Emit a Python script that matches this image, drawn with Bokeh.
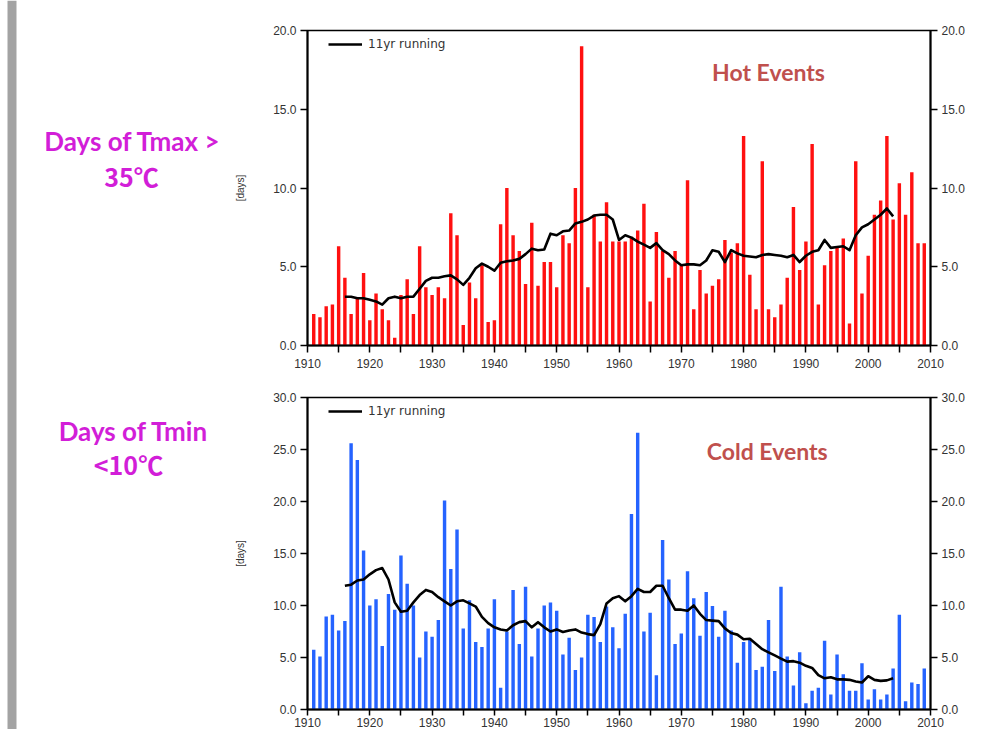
from bokeh.plotting import figure
from bokeh.layouts import row, column
from bokeh.models import (Range1d, LinearAxis, FixedTicker, PrintfTickFormatter,
                          Label, Legend, LegendItem, ColumnDataSource)
from bokeh.embed import file_html
from bokeh.resources import INLINE
from bokeh.core.properties import value

# ---------------- data ----------------
years = list(range(1911, 2010))

hot_days = [2.0, 1.8, 2.5, 2.6, 6.3, 4.3, 2.0, 3.0, 4.6, 1.6,
            3.3, 2.3, 1.6, 0.5, 3.2, 4.2, 2.0, 6.3, 3.7, 3.2,
            3.7, 3.0, 8.4, 7.0, 1.3, 4.0, 3.0, 5.1, 1.5, 1.6,
            7.7, 10.0, 7.0, 6.0, 3.9, 7.8, 3.8, 5.3, 5.3, 3.7,
            7.0, 6.5, 10.0, 19.0, 3.7, 8.3, 6.6, 9.1, 6.6, 6.6,
            6.6, 6.9, 7.3, 9.0, 2.8, 7.2, 6.0, 4.3, 6.0, 5.1,
            10.5, 2.3, 4.8, 3.3, 3.8, 4.2, 6.7, 5.9, 6.5, 13.3,
            4.5, 2.3, 11.7, 2.3, 1.8, 2.6, 4.3, 8.8, 4.8, 6.6,
            12.8, 2.6, 5.1, 6.0, 6.2, 6.8, 1.4, 11.7, 3.3, 5.7,
            8.3, 9.2, 13.3, 8.0, 10.3, 8.3, 11.0, 6.5, 6.5]

cold_days = [5.75, 5.1, 8.95, 9.1, 7.6, 8.5, 25.6, 24.0, 15.3, 10.0,
             10.6, 6.1, 11.1, 9.6, 14.8, 12.1, 10.0, 5.0, 7.5, 7.0,
             8.6, 20.1, 13.5, 17.3, 7.8, 10.5, 6.5, 6.0, 7.8, 10.6,
             2.1, 7.5, 11.5, 6.3, 11.8, 5.1, 7.8, 10.0, 10.3, 9.5,
             5.3, 6.9, 3.8, 5.0, 9.1, 8.9, 6.5, 9.9, 7.9, 5.9,
             9.2, 18.8, 26.6, 7.5, 9.3, 3.3, 16.3, 12.5, 6.3, 7.3,
             13.3, 10.7, 7.1, 11.3, 9.95, 7.0, 9.5, 7.6, 4.5, 6.5,
             6.8, 3.8, 4.1, 8.6, 3.7, 11.8, 5.1, 2.3, 5.5, 0.6,
             1.8, 2.1, 6.6, 1.45, 5.3, 3.4, 1.8, 1.8, 4.45, 0.95,
             1.95, 0.95, 1.45, 3.95, 9.1, 0.8, 2.6, 2.45, 3.95]

run_years = list(range(1916, 2005))

hot_running = [3.1, 3.1, 3.0, 3.0, 2.9, 2.8, 2.6, 3.0, 3.1, 3.0,
               3.1, 3.1, 3.6, 4.1, 4.3, 4.3, 4.4, 4.45, 4.2, 3.85,
               4.3, 4.9, 5.2, 5.0, 4.75, 5.25, 5.35, 5.4, 5.5, 5.8,
               6.15, 6.05, 6.1, 7.1, 7.0, 7.25, 7.3, 7.75, 7.85, 8.0,
               8.25, 8.3, 8.3, 8.0, 6.7, 7.0, 6.85, 6.6, 6.4, 6.2,
               6.5, 6.05, 5.8, 5.4, 5.1, 5.15, 5.15, 5.1, 5.4, 6.05,
               5.95, 5.3, 6.05, 5.85, 5.7, 5.65, 5.6, 5.75, 5.8, 5.75,
               5.7, 5.6, 5.75, 5.3, 5.7, 5.95, 6.05, 6.7, 6.2, 6.25,
               6.3, 6.05, 7.0, 7.5, 7.7, 8.0, 8.3, 8.7, 8.2]

cold_running = [11.9, 12.0, 12.4, 12.5, 13.0, 13.4, 13.6, 12.5, 10.3, 9.4,
                9.5, 10.3, 11.0, 11.5, 11.3, 10.8, 10.4, 10.0, 10.4, 10.5,
                10.2, 9.9, 8.9, 8.3, 7.9, 7.7, 7.6, 8.1, 8.4, 8.5,
                7.9, 8.4, 7.9, 7.5, 7.7, 7.45, 7.6, 7.7, 7.4, 7.25,
                7.15, 8.2, 10.2, 10.7, 10.9, 10.4, 10.9, 11.6, 11.3, 11.3,
                11.9, 11.9, 10.7, 9.6, 9.6, 9.5, 10.0, 9.2, 8.6, 8.55,
                8.5, 7.8, 7.35, 7.2, 6.75, 6.8, 6.3, 5.8, 5.5, 5.2,
                4.9, 4.6, 4.65, 4.5, 4.2, 4.0, 3.3, 3.0, 3.1, 2.9,
                2.9, 2.85, 2.7, 2.6, 3.2, 2.85, 2.75, 2.8, 3.0]

x_ticks = [1910, 1920, 1930, 1940, 1950, 1960, 1970, 1980, 1990, 2000, 2010]
x_minor = [1915, 1925, 1935, 1945, 1955, 1965, 1975, 1985, 1995, 2005]
hot_yticks = [0, 5, 10, 15, 20]
cold_yticks = [0, 5, 10, 15, 20, 25, 30]

legend_text = "11yr running"
hot_title = "Hot Events"
cold_title = "Cold Events"
left_texts = ["Days of Tmax >", "Days of Tmin"]
left_unit_texts = ["35\u2103", "<10\u2103"]

# ---------------- styling helpers ----------------
TICK_FONT = "Liberation Sans"
TITLE_COLOR = "#c0504d"
MAGENTA = "#d21ed8"


def style_axis(ax, is_x=False, tick_out=7, standoff=4):
    ax.axis_line_width = 2
    ax.axis_line_color = "black"
    ax.major_tick_line_width = 1.5
    ax.major_tick_in = 0
    ax.major_tick_out = tick_out
    ax.major_label_text_font = TICK_FONT
    ax.major_label_text_font_size = "12px"
    ax.major_label_text_color = "#333333"
    ax.major_label_standoff = standoff
    if is_x:
        ax.minor_tick_in = 0
        ax.minor_tick_out = tick_out
        ax.minor_tick_line_width = 1.5
        ax.minor_tick_line_color = "black"
    else:
        ax.minor_tick_line_color = None


def make_panel(height, ymax, yticks, vals, run_vals, color, b_left, b_right,
               b_top, b_bottom, title, title_x, title_y, frame_h,
               x_tick_out, x_standoff):
    p = figure(width=741, height=height, x_range=Range1d(1910, 2010),
               y_range=Range1d(0, ymax), output_backend="svg",
               toolbar_location=None, min_border_left=b_left,
               min_border_right=b_right, min_border_top=b_top,
               min_border_bottom=b_bottom, y_axis_label="[days]")
    p.xgrid.visible = False
    p.ygrid.visible = False
    p.outline_line_color = "black"
    p.outline_line_width = 1.5
    p.background_fill_color = "white"
    p.border_fill_color = "white"

    src = ColumnDataSource(dict(year=years, val=vals))
    p.vbar(x="year", top="val", width=0.55, source=src,
           fill_color=color, line_color=None)
    rsrc = ColumnDataSource(dict(year=run_years, val=run_vals))
    ln = p.line(x="year", y="val", source=rsrc, line_color="black",
                line_width=2.6, line_join="round")

    xa = p.xaxis[0]
    xa.ticker = FixedTicker(ticks=x_ticks, minor_ticks=x_minor)
    style_axis(xa, True, x_tick_out, x_standoff)

    ya = p.yaxis[0]
    ya.ticker = FixedTicker(ticks=yticks)
    ya.formatter = PrintfTickFormatter(format="%.1f")
    style_axis(ya)
    ya.axis_label_text_font = TICK_FONT
    ya.axis_label_text_font_size = "10px"
    ya.axis_label_text_font_style = "normal"
    ya.axis_label_text_color = "#333333"
    ya.axis_label_standoff = 24

    ra = LinearAxis(ticker=FixedTicker(ticks=yticks),
                    formatter=PrintfTickFormatter(format="%.1f"))
    style_axis(ra)
    p.add_layout(ra, "right")

    leg = Legend(items=[LegendItem(label=legend_text, renderers=[ln])],
                 location=(21, frame_h - 21))
    leg.background_fill_alpha = 0
    leg.border_line_alpha = 0
    leg.glyph_width = 34
    leg.glyph_height = 14
    leg.label_height = 14
    leg.label_standoff = 6
    leg.padding = 0
    leg.margin = 0
    leg.spacing = 0
    leg.label_text_font = "DejaVu Sans"
    leg.label_text_font_size = "12px"
    leg.label_text_color = "#333333"
    p.add_layout(leg)

    p.add_layout(Label(x=title_x, y=title_y, text=title, text_align="center",
                       text_baseline="middle", text_font="Lato",
                       text_font_size="23px", text_font_style="bold",
                       text_color=TITLE_COLOR))
    return p


top = make_panel(380, 20, hot_yticks, hot_days, hot_running, "#ff1010",
                 79, 39, 30, 35, hot_title, 1984, 17.35, 315, 7, 6)
bottom = make_panel(349, 30, cold_yticks, cold_days, cold_running, "#2563ff",
                    75, 37, 17, 20, cold_title, 1983.8, 24.9, 312, 6, 2)

# left text panel (coordinates in picture pixels)
left = figure(width=228, height=729, x_range=Range1d(0, 228),
              y_range=Range1d(729, 0), x_axis_type=None, y_axis_type=None,
              output_backend="svg", toolbar_location=None, min_border=0)
left.outline_line_color = None
left.xgrid.visible = False
left.ygrid.visible = False
left.quad(left=[7], right=[16], top=[0], bottom=[729], fill_color="#a3a3a3",
          line_color=None)
lsrc = ColumnDataSource(dict(x=[132, 133], y=[140, 430], t=left_texts))
left.text(x="x", y="y", text="t", source=lsrc, text_align="center",
          text_baseline="middle", text_font=value("Lato"),
          text_font_size="26px", text_font_style="bold", text_color=MAGENTA)
usrc = ColumnDataSource(dict(x=[131, 128], y=[175, 463], t=left_unit_texts))
left.text(x="x", y="y", text="t", source=usrc, text_align="center",
          text_baseline="middle", text_font=value("Noto Sans CJK SC"),
          text_font_size="25px", text_font_style="bold", text_color=MAGENTA)

layout = row(left, column(top, bottom))

with open("out.html", "w") as f:
    f.write(file_html(layout, INLINE))
